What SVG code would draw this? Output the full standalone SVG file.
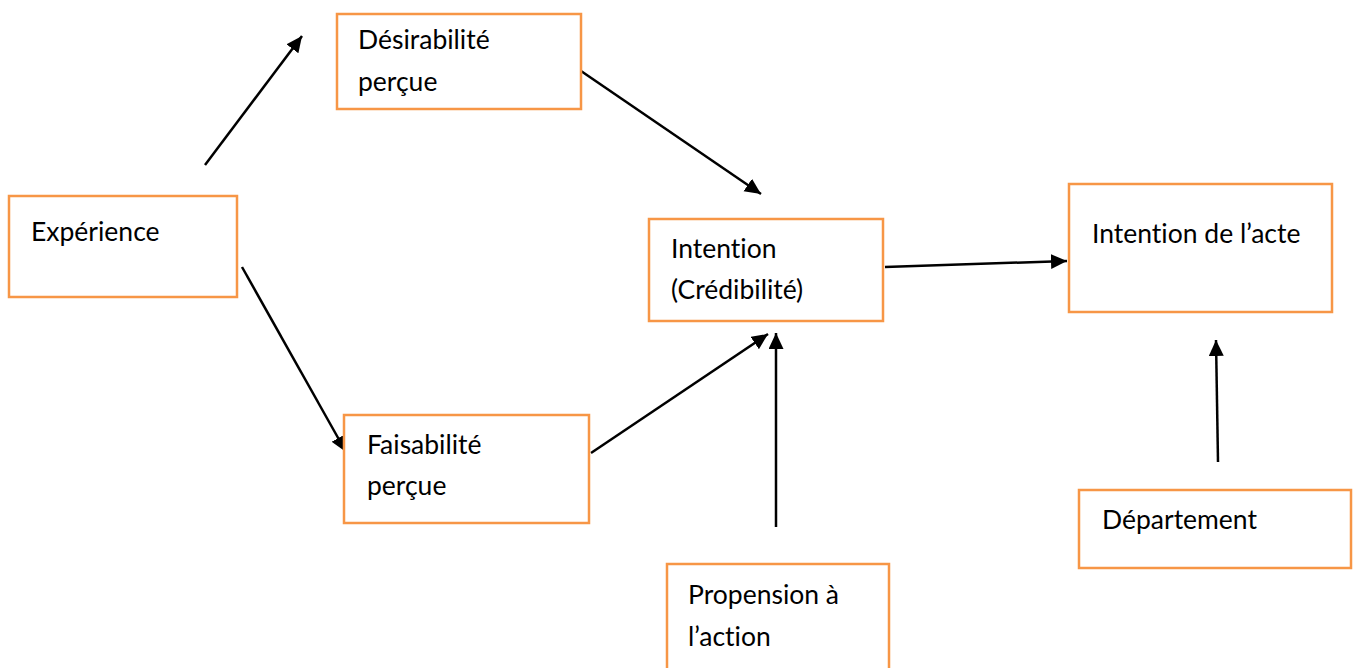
<svg xmlns="http://www.w3.org/2000/svg" width="1354" height="668" viewBox="0 0 1354 668">
  <style>
    .box { fill: #ffffff; stroke: #F79646; stroke-width: 2.5; }
    .lbl { font-family: Lato, "Liberation Sans", sans-serif; font-size: 26.5px; fill: #000000; font-variant-ligatures: none; font-feature-settings: "liga" 0; }
    .edge { stroke: #000000; stroke-width: 2.5; fill: none; marker-end: url(#head); }
  </style>
  <defs>
    <marker id="head" markerUnits="userSpaceOnUse" markerWidth="17" markerHeight="16" refX="16" refY="7.5" orient="auto">
      <path d="M0,0 L16,7.5 L0,15 Z" fill="#000000"/>
    </marker>
  </defs>
  <rect width="1354" height="668" fill="#ffffff"/>

  <!-- arrows are drawn first so the boxes sit on top of them -->
  <g id="connectors">
    <line class="edge" x1="205" y1="165" x2="302" y2="36"/>
    <line class="edge" x1="581" y1="71" x2="761" y2="194"/>
    <line class="edge" x1="885" y1="267" x2="1067" y2="261"/>
    <line class="edge" x1="242" y1="267" x2="346" y2="452"/>
    <line class="edge" x1="591" y1="453" x2="768" y2="334"/>
    <line class="edge" x1="776" y1="527" x2="776" y2="333"/>
    <line class="edge" x1="1218" y1="462" x2="1216" y2="340"/>
  </g>

  <g id="experience">
    <rect class="box" x="9" y="196" width="228" height="101"/>
    <text class="lbl" x="31" y="241">Expérience</text>
  </g>

  <g id="desirabilite">
    <rect class="box" x="337" y="14" width="244" height="95"/>
    <text class="lbl" x="358" y="49">Désirabilité</text>
    <text class="lbl" x="358" y="91">perçue</text>
  </g>

  <g id="faisabilite">
    <rect class="box" x="344" y="415" width="245" height="108"/>
    <text class="lbl" x="367" y="454">Faisabilité</text>
    <text class="lbl" x="367" y="495">perçue</text>
  </g>

  <g id="intention">
    <rect class="box" x="649" y="219" width="234" height="102"/>
    <text class="lbl" x="671" y="258">Intention</text>
    <text class="lbl" x="671" y="299">(Crédibilité)</text>
  </g>

  <g id="intention-acte">
    <rect class="box" x="1069" y="184" width="263" height="128"/>
    <text class="lbl" x="1092" y="243">Intention de l’acte</text>
  </g>

  <g id="propension">
    <rect class="box" x="667" y="564" width="222" height="120"/>
    <text class="lbl" x="688" y="604">Propension à</text>
    <text class="lbl" x="688" y="646">l’action</text>
  </g>

  <g id="departement">
    <rect class="box" x="1079" y="490" width="272" height="78"/>
    <text class="lbl" x="1102" y="529">Département</text>
  </g>
</svg>
